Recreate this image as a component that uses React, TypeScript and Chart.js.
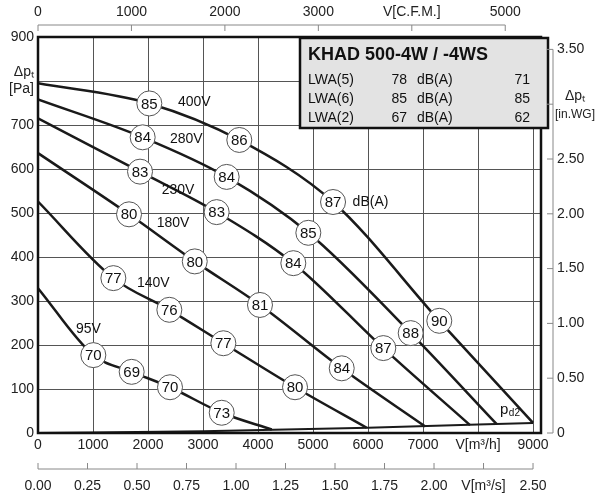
import { useEffect, useRef } from "react";
import { Chart, registerables } from "chart.js";

Chart.register(...registerables);

// operating curves, flow in m3/h, pressure in Pa
const curve400 = [[0, 795], [2024, 749], [3660, 666], [5364, 525], [7296, 255], [9000, 23]];
const curve280 = [[0, 758], [1903, 672], [3430, 582], [4915, 455], [6776, 227], [8340, 20]];
const curve230 = [[0, 715], [1855, 594], [3248, 502], [4642, 386], [6278, 193], [7855, 18]];
const curve180 = [[0, 636], [1655, 497], [2850, 390], [4036, 291], [5522, 147], [7036, 15]];
const curve140 = [[0, 526], [1370, 352], [2388, 280], [3370, 204], [4673, 104], [5976, 12]];
const curve95 = [[0, 329], [1006, 177], [1703, 139], [2400, 104], [3340, 46], [4250, 8]];
const curvePd2 = [[0, 0], [3000, 4], [6000, 12], [9000, 23]];

// sound level bubbles: [flow, pressure, dB]
const bubbles = [
  [2024, 749, 85], [3660, 666, 86], [5364, 525, 87], [7296, 255, 90],
  [1903, 672, 84], [3430, 582, 84], [4915, 455, 85], [6776, 227, 88],
  [1855, 594, 83], [3248, 502, 83], [4642, 386, 84], [6278, 193, 87],
  [1655, 497, 80], [2850, 390, 80], [4036, 291, 81], [5522, 147, 84],
  [1370, 352, 77], [2388, 280, 76], [3370, 204, 77], [4673, 104, 80],
  [1006, 177, 70], [1703, 139, 69], [2400, 104, 70], [3340, 46, 73],
];
const voltLabels: [number, number, string][] = [
  [2545, 753, "400V"], [2400, 668, "280V"], [2250, 552, "230V"], [2158, 477, "180V"],
  [1800, 340, "140V"], [690, 236, "95V"],
];

const cfmTicks = [0, 1000, 2000, 3000, 4000, 5000];
const m3sTicks = [0, 0.25, 0.5, 0.75, 1, 1.25, 1.5, 1.75, 2, 2.25, 2.5];
const inwgTicks = [0, 0.5, 1, 1.5, 2, 2.5, 3, 3.5];
const tableRows = [["LWA(5)", "78", "71"], ["LWA(6)", "85", "85"], ["LWA(2)", "67", "62"]];

const FONT = "'Liberation Sans', Arial, sans-serif";

const toPts = (c: number[][]) => c.map(([x, y]) => ({ x, y }));

const overlay = {
  id: "overlay",
  afterDatasetsDraw(chart: any) {
    const ctx = chart.ctx;
    const xs = chart.scales.x;
    const ys = chart.scales.y;
    const a = chart.chartArea;
    ctx.save();
    ctx.font = `15px ${FONT}`;
    ctx.textBaseline = "middle";
    ctx.textAlign = "center";
    for (const [fx, p, db] of bubbles) {
      const px = xs.getPixelForValue(fx);
      const py = ys.getPixelForValue(p);
      ctx.beginPath();
      ctx.arc(px, py, 12.5, 0, Math.PI * 2);
      ctx.fillStyle = "#fff";
      ctx.fill();
      ctx.strokeStyle = "#555";
      ctx.lineWidth = 1;
      ctx.stroke();
      ctx.fillStyle = "#111";
      ctx.fillText(String(db), px, py + 1);
    }
    ctx.font = `14px ${FONT}`;
    ctx.textAlign = "left";
    for (const [fx, p, t] of voltLabels) {
      ctx.fillText(t, xs.getPixelForValue(fx), ys.getPixelForValue(p));
    }
    ctx.fillText("dB(A)", xs.getPixelForValue(5720), ys.getPixelForValue(525));
    ctx.font = `15px ${FONT}`;
    ctx.fillText("p", xs.getPixelForValue(8400), ys.getPixelForValue(52));
    ctx.font = `10px ${FONT}`;
    ctx.fillText("d2", xs.getPixelForValue(8560), ys.getPixelForValue(44));

    // frame
    ctx.strokeStyle = "#111";
    ctx.lineWidth = 2.5;
    ctx.strokeRect(a.left, a.top, a.right - a.left, a.bottom - a.top);

    // info box
    const bx = 300, by = 38, bw = 248, bh = 90;
    ctx.fillStyle = "#e3e3e3";
    ctx.fillRect(bx, by, bw, bh);
    ctx.lineWidth = 2.5;
    ctx.strokeRect(bx, by, bw, bh);
    ctx.fillStyle = "#111";
    ctx.font = `bold 18px ${FONT}`;
    ctx.fillText("KHAD 500-4W / -4WS", bx + 8, by + 17);
    ctx.font = `14px ${FONT}`;
    tableRows.forEach((r, i) => {
      const yy = by + 42 + i * 19;
      ctx.textAlign = "left";
      ctx.fillText(r[0], bx + 8, yy);
      ctx.textAlign = "right";
      ctx.fillText(r[1], bx + 107, yy);
      ctx.textAlign = "left";
      ctx.fillText("dB(A)", bx + 117, yy);
      ctx.textAlign = "right";
      ctx.fillText(r[2], bx + 230, yy);
    });

    // extra axes
    ctx.strokeStyle = "#888";
    ctx.lineWidth = 1;
    ctx.fillStyle = "#222";
    ctx.font = `14px ${FONT}`;
    ctx.textAlign = "center";
    // top CFM axis
    const ty = 25;
    const cfmPx = (v: number) => xs.getPixelForValue(v * 1.699);
    ctx.beginPath();
    ctx.moveTo(cfmPx(0), ty);
    ctx.lineTo(cfmPx(5000), ty);
    cfmTicks.forEach((v) => { ctx.moveTo(cfmPx(v), ty); ctx.lineTo(cfmPx(v), ty + 6); });
    ctx.stroke();
    cfmTicks.forEach((v) => ctx.fillText(v === 4000 ? "V[C.F.M.]" : String(v), cfmPx(v), ty - 13));
    // bottom m3/s axis
    const my = 469;
    const sPx = (v: number) => xs.getPixelForValue(v * 3600);
    ctx.beginPath();
    ctx.moveTo(sPx(0), my);
    ctx.lineTo(sPx(2.5), my);
    m3sTicks.forEach((v) => { ctx.moveTo(sPx(v), my); ctx.lineTo(sPx(v), my - 6); });
    ctx.stroke();
    m3sTicks.forEach((v) => ctx.fillText(v === 2.25 ? "V[m³/s]" : v.toFixed(2), sPx(v), my + 17));
    // right in.WG axis
    const rx = 553;
    const wPx = (v: number) => ys.getPixelForValue(v * 249.09);
    ctx.beginPath();
    ctx.moveTo(rx, wPx(0));
    ctx.lineTo(rx, wPx(3.5));
    inwgTicks.forEach((v) => { ctx.moveTo(rx, wPx(v)); ctx.lineTo(rx - 6, wPx(v)); });
    ctx.stroke();
    ctx.textAlign = "left";
    inwgTicks.forEach((v) => {
      if (v === 3) {
        ctx.textAlign = "center";
        ctx.fillText("Δpₜ", 575, wPx(v) - 8);
        ctx.font = `12px ${FONT}`;
        ctx.fillText("[in.WG]", 575, wPx(v) + 10);
        ctx.font = `14px ${FONT}`;
        ctx.textAlign = "left";
      } else {
        ctx.fillText(v === 0 ? "0" : v.toFixed(2), rx + 4, wPx(v));
      }
    });
    ctx.restore();
  },
};

export default function App() {
  const canvasRef = useRef<HTMLCanvasElement>(null);

  useEffect(() => {
    document.body.style.margin = "0";
    if (!canvasRef.current) return;
    const line = (data: number[][], w = 2.5) => ({
      data: toPts(data),
      showLine: true,
      borderColor: "#1a1a1a",
      borderWidth: w,
      cubicInterpolationMode: "monotone" as const,
      pointRadius: 0,
      fill: false,
    });
    const chart = new Chart(canvasRef.current, {
      type: "scatter",
      data: {
        datasets: [
          line(curve400), line(curve280), line(curve230), line(curve180),
          line(curve140), line(curve95), line(curvePd2, 2),
        ],
      },
      options: {
        animation: false,
        responsive: false,
        layout: { padding: { top: 37, right: 59, left: 0, bottom: 0 } },
        plugins: { legend: { display: false }, tooltip: { enabled: false } },
        scales: {
          x: {
            type: "linear",
            min: 0,
            max: 9145,
            afterFit: (s: any) => { s.height = 67; },
            afterBuildTicks: (s: any) => {
              s.ticks = [0, 1000, 2000, 3000, 4000, 5000, 6000, 7000, 8000, 9000].map((v) => ({ value: v }));
            },
            grid: { color: "#555", lineWidth: 1, drawTicks: false },
            border: { display: false },
            ticks: {
              color: "#222",
              font: { family: FONT, size: 14 },
              padding: 4,
              maxRotation: 0,
              autoSkip: false,
              callback: (v: any) => (v === 8000 ? "V[m³/h]" : String(v)),
            },
          },
          y: {
            type: "linear",
            min: 0,
            max: 900,
            afterFit: (s: any) => { s.width = 38; },
            grid: { color: "#555", lineWidth: 1, drawTicks: false },
            border: { display: false },
            ticks: {
              stepSize: 100,
              color: "#222",
              font: { family: FONT, size: 14 },
              padding: 4,
              callback: (v: any) => (v === 800 ? ["Δpₜ", "[Pa]"] : String(v)),
            },
          },
        },
      },
      plugins: [overlay],
    });
    return () => chart.destroy();
  }, []);

  return (
    <div style={{ width: 600, height: 500 }}>
      <canvas ref={canvasRef} width={600} height={500} />
    </div>
  );
}
